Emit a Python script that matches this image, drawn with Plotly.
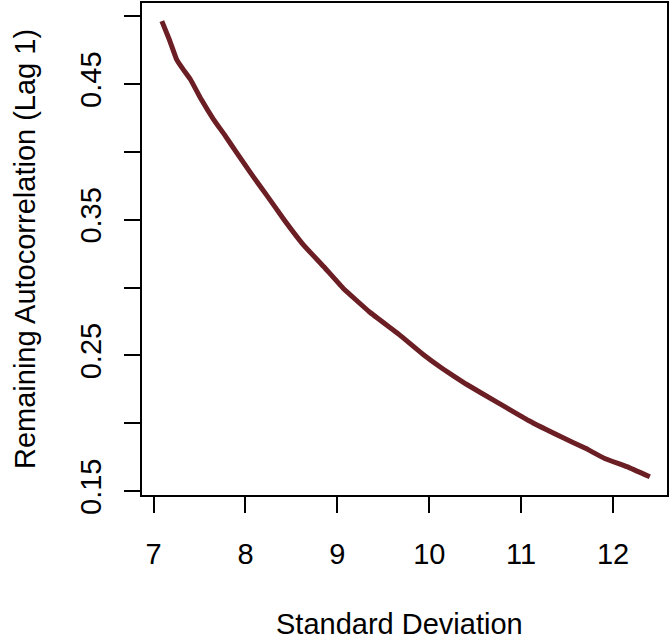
import plotly.graph_objects as go

# Data
sd_values = [7.09, 7.17, 7.25, 7.32, 7.40, 7.52, 7.65, 7.78, 7.90, 8.05, 8.23, 8.42, 8.63,
             8.85, 9.06, 9.35, 9.67, 9.93, 10.15, 10.40, 10.75, 11.08, 11.44, 11.70, 11.91,
             12.15, 12.40]
autocorr = [0.4963, 0.4830, 0.4682, 0.4610, 0.4535, 0.4385, 0.4242, 0.4118, 0.3998, 0.3850,
            0.3681, 0.3500, 0.3315, 0.3155, 0.2997, 0.2820, 0.2655, 0.2509, 0.2400, 0.2289,
            0.2150, 0.2020, 0.1898, 0.1815, 0.1740, 0.1680, 0.1605]

x_ticks = [7, 8, 9, 10, 11, 12]
y_ticks = [0.15, 0.20, 0.25, 0.30, 0.35, 0.40, 0.45, 0.50]
y_ticklabels = ["0.15", "", "0.25", "", "0.35", "", "0.45", ""]

x_title = "Standard Deviation"
y_title = "Remaining Autocorrelation (Lag 1)"

FONT = dict(family="Liberation Sans, Arial, sans-serif", size=29, color="black")

fig = go.Figure()
fig.add_trace(go.Scatter(
    x=sd_values, y=autocorr, mode="lines",
    line=dict(color="#6B1E24", width=5, shape="spline", smoothing=0.3),
    showlegend=False,
))

W, H = 670, 639
L, R, T, B = 142, 1, 1, 144

fig.update_layout(
    width=W, height=H,
    margin=dict(l=L, r=R, t=T, b=B),
    paper_bgcolor="white", plot_bgcolor="white",
    font=FONT,
    xaxis=dict(
        range=[6.874, 12.587], tickvals=x_ticks, ticktext=[str(v) for v in x_ticks],
        ticks="outside", ticklen=16, tickwidth=1.5, tickcolor="black",
        showline=True, linecolor="black", linewidth=1.5, mirror=True,
        showgrid=False, zeroline=False, tickfont=FONT, ticklabelstandoff=16,
    ),
    yaxis=dict(
        range=[0.1471, 0.5097], tickvals=y_ticks, ticktext=y_ticklabels,
        ticks="outside", ticklen=16, tickwidth=1.5, tickcolor="black",
        showline=True, linecolor="black", linewidth=1.5, mirror=True,
        showgrid=False, zeroline=False, tickfont=FONT, tickangle=-90,
        ticklabelstandoff=12,
    ),
    annotations=[
        dict(text=x_title, xref="paper", yref="paper", x=0.49, y=0,
             xanchor="center", yanchor="middle", yshift=-129,
             showarrow=False, font=FONT),
        dict(text=y_title, xref="paper", yref="paper", x=0, y=0.5,
             xanchor="center", yanchor="middle", xshift=-117, textangle=-90,
             showarrow=False, font=FONT),
    ],
)

fig.write_html("out.html")
